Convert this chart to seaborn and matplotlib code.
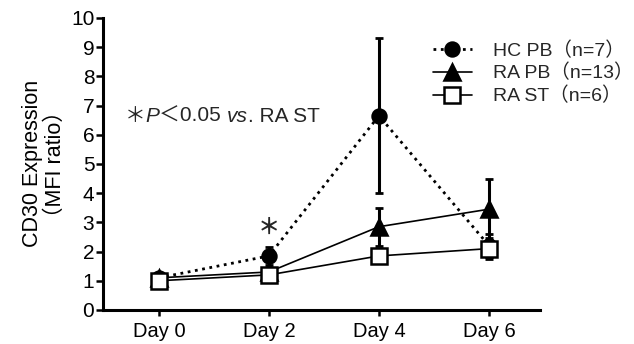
import pandas as pd
import matplotlib.pyplot as plt
import seaborn as sns

sns.set_theme(style="ticks")
fams = ["Liberation Sans", "Noto Sans CJK JP", "DejaVu Sans"]
plt.rcParams["font.family"] = fams

days = [0, 2, 4, 6]
day_labels = ["Day 0", "Day 2", "Day 4", "Day 6"]

hc_pb_mean = [1.1, 1.85, 6.65, 2.2]
hc_pb_err = [0.1, 0.3, 2.65, 0.4]
ra_pb_mean = [1.1, 1.3, 2.85, 3.45]
ra_pb_err = [0.1, 0.15, 0.65, 1.05]
ra_st_mean = [1.0, 1.2, 1.85, 2.1]
ra_st_err = [0.1, 0.1, 0.25, 0.35]

series = {
    "HC PB（n=7）": (hc_pb_mean, hc_pb_err),
    "RA PB（n=13）": (ra_pb_mean, ra_pb_err),
    "RA ST（n=6）": (ra_st_mean, ra_st_err),
}

rows = []
for name, (means, errs) in series.items():
    for d, m, e in zip(days, means, errs):
        rows.append({"group": name, "day": d, "mean": m, "err": e})
df = pd.DataFrame(rows)

styles = {
    "HC PB（n=7）": dict(ls=":", marker="o", mfc="black", ms=10, lw=2.0, z=3),
    "RA PB（n=13）": dict(ls="-", marker="^", mfc="black", ms=12, lw=1.2, z=4),
    "RA ST（n=6）": dict(ls="-", marker="s", mfc="white", ms=11, lw=1.2, z=5),
}

fig, ax = plt.subplots(figsize=(6.34, 3.44), dpi=100)
fig.subplots_adjust(left=0.162, right=0.852, bottom=0.099, top=0.948)

for name, g in df.groupby("group", sort=False):
    st = styles[name]
    ax.errorbar(g["day"], g["mean"], yerr=g["err"], fmt="none", ecolor="black",
                elinewidth=2.2, capsize=3, capthick=2, zorder=st["z"] - 0.5)
    sns.lineplot(data=g, x="day", y="mean", ax=ax, color="black",
                 linestyle=st["ls"], marker=st["marker"], markersize=st["ms"],
                 markerfacecolor=st["mfc"], markeredgecolor="black",
                 markeredgewidth=1.8, linewidth=st["lw"],
                 label=name, zorder=st["z"])

ax.set_xlim(-1.02, 6.93)
ax.set_ylim(0, 10)
ax.set_yticks(range(0, 11))
ax.set_xticks(days)
ax.set_xticklabels(day_labels, fontsize=14.5)
ax.tick_params(axis="y", labelsize=15, length=5, width=1.8, pad=1, colors="black")
ax.tick_params(axis="x", length=4, width=1.8, pad=5, colors="black")
ax.set_xlabel("")
ax.set_ylabel("CD30 Expression\n（MFI ratio）", fontsize=15.5, linespacing=1.1,
              color="black", labelpad=4)
for sp in ["left", "bottom"]:
    ax.spines[sp].set_linewidth(2.2)
    ax.spines[sp].set_color("black")
sns.despine(ax=ax)

# significance note, built from pieces so P and vs. can be italic
pieces = [("＊", "normal"), ("P", "italic"), ("＜0.05 ", "normal"),
          ("vs", "italic"), (". RA ST", "normal")]
prev = ax.text(-0.62, 6.45, pieces[0][0], fontsize=15, va="baseline", ha="left")
for txt, style in pieces[1:]:
    prev = ax.annotate(txt, xy=(1, 6.45), xycoords=(prev, "data"),
                       fontsize=15, style=style, va="baseline", ha="left")

ax.text(2, 2.8, "＊", fontsize=16, ha="center", va="center",
        fontweight="bold")

ax.legend(loc="upper left", bbox_to_anchor=(0.683, 0.88),
          bbox_transform=fig.transFigure, frameon=False,
          prop={"family": fams, "size": 14}, handlelength=2.0,
          handletextpad=1.1, labelspacing=0.22, borderaxespad=0, borderpad=0)

fig.savefig("out.png", dpi=100)
